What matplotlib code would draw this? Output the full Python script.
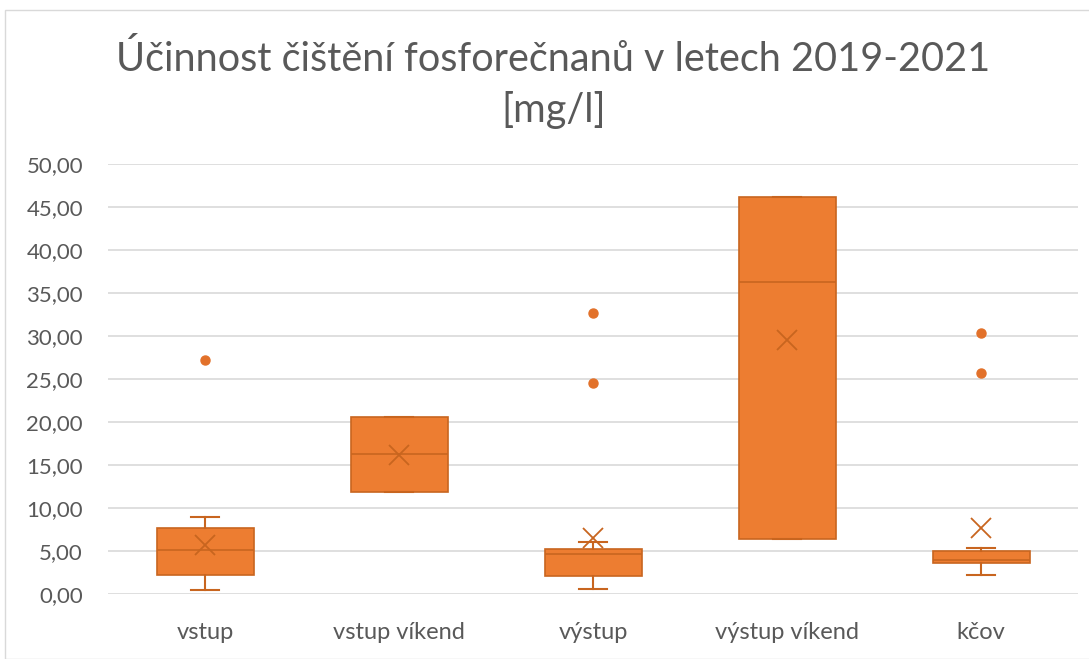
import matplotlib.pyplot as plt
from matplotlib.patches import Rectangle
from matplotlib.ticker import FuncFormatter

# souhrnne statistiky pro kazdou skupinu (mg/l)
kategorie = ["vstup", "vstup víkend", "výstup", "výstup víkend", "kčov"]
q1 = [2.2, 11.9, 2.1, 6.4, 3.6]
medianb = [5.1, 16.3, 4.65, 36.3, 3.9]
q3 = [7.7, 20.6, 5.2, 46.2, 5.0]
whis_lo = [0.45, 11.9, 0.6, 6.4, 2.2]
whis_hi = [9.0, 20.6, 6.0, 46.2, 5.35]
prumer = [5.7, 16.2, 6.5, 29.5, 7.7]
odlehle = [[27.2], [], [32.7, 24.5], [], [30.3, 25.7]]

oranzova = "#ED7D31"
tmava = "#C8651F"
seda = "#595959"

plt.rcParams["font.family"] = ["Lato", "DejaVu Sans"]

stats = []
for i, k in enumerate(kategorie):
    stats.append({
        "label": k,
        "q1": q1[i], "med": medianb[i], "q3": q3[i],
        "whislo": whis_lo[i], "whishi": whis_hi[i],
        "mean": prumer[i], "fliers": odlehle[i],
    })

fig = plt.figure(figsize=(10.89, 6.59), dpi=100)
ax = fig.add_axes([108 / 1089, 1 - 594 / 659, 970 / 1089, 430 / 659])

ax.bxp(
    stats, positions=range(len(stats)), widths=0.5, patch_artist=True,
    showmeans=True, capwidths=0.14,
    boxprops=dict(facecolor=oranzova, edgecolor=tmava, linewidth=1.2),
    medianprops=dict(color=tmava, linewidth=1.2),
    whiskerprops=dict(color=tmava, linewidth=1.5),
    capprops=dict(color=tmava, linewidth=1.5),
    meanprops=dict(marker="x", markersize=14, markeredgecolor=tmava,
                   markeredgewidth=1.3, linestyle="none"),
    flierprops=dict(marker="o", markersize=6.5, markerfacecolor="#E2712A",
                    markeredgecolor="#E2712A"),
)

ax.set_xlim(-0.5, len(stats) - 0.5)
ax.set_ylim(0, 50)
ax.set_yticks(range(0, 51, 5))
ax.yaxis.set_major_formatter(FuncFormatter(lambda v, p: f"{v:.2f}".replace(".", ",")))
ax.grid(axis="y", color="#D9D9D9", linewidth=1.2)
ax.set_axisbelow(True)
for s in ax.spines.values():
    s.set_visible(False)
ax.tick_params(length=0, colors=seda)
ax.tick_params(axis="x", labelsize=17, pad=20)
ax.tick_params(axis="y", labelsize=16, pad=18)

fig.text(0.508, 0.872, "Účinnost čištění fosforečnanů v letech 2019-2021\n[mg/l]",
         ha="center", va="center", fontsize=28.5, color=seda, linespacing=1.42)

# ramecek kolem celeho grafu
fig.patches.append(Rectangle((5 / 1089, 0), 1.0, 1 - 10 / 659, transform=fig.transFigure,
                             fill=False, edgecolor="#D9D9D9", linewidth=1))

fig.savefig("out.png", dpi=100)
